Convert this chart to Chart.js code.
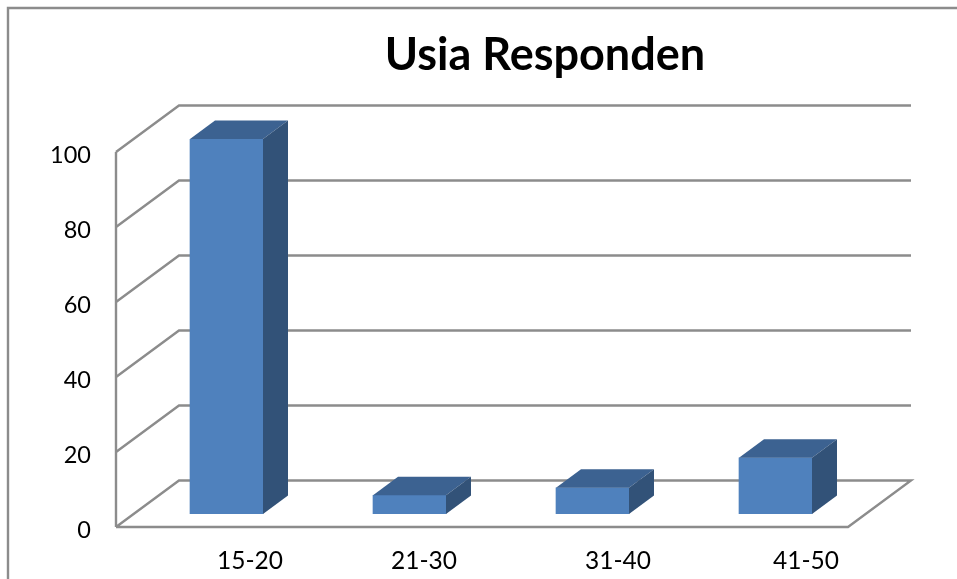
<!DOCTYPE html>
<html>
<head>
<meta charset="utf-8">
<style>html,body{margin:0;padding:0;background:#fff}canvas{display:block}</style>
<script src="https://cdn.jsdelivr.net/npm/chart.js@4"></script>
</head>
<body>
<canvas id="c" width="957" height="579"></canvas>
<script>
const categories = ['15-20', '21-30', '31-40', '41-50'];
const values = [100, 5, 7, 15];
const titleText = 'Usia Responden';
const labelNudges = [42.5, 33.5, 44.5, 49.5];

const LINE = '#8c8c8c', FRONT = '#4f81bd', TOP = '#3c6291', SIDE = '#325278';
const WALL_DX = 63, WALL_DY = -46.5;
const BAR_DX = 19, BAR_DY = -13;
const DEPTH_DX = 25, DEPTH_DY = -18.5;

const poly = (ctx, pts, fill) => {
  ctx.beginPath();
  pts.forEach((p, i) => i ? ctx.lineTo(p[0], p[1]) : ctx.moveTo(p[0], p[1]));
  if (fill) { ctx.closePath(); ctx.fillStyle = fill; ctx.fill(); } else ctx.stroke();
};

const scene3d = {
  id: 'scene3d',
  afterLayout(chart) {
    chart.titleBlock.left += 121;
    chart.titleBlock.right += 121;
  },
  beforeDatasetsDraw(chart) {
    const { ctx, scales: { y }, chartArea: a } = chart;
    ctx.save();
    ctx.strokeStyle = LINE;
    ctx.lineWidth = 2.4;
    ctx.lineJoin = 'miter';
    // outer frame
    poly(ctx, [[8, 579], [8, 8], [957, 8]]);
    // walls and gridlines
    y.ticks.forEach(t => {
      const py = y.getPixelForValue(t.value);
      if (t.value === 0) {
        poly(ctx, [[a.left, py], [a.right, py], [a.right + WALL_DX, py + WALL_DY], [a.left + WALL_DX, py + WALL_DY], [a.left, py]]);
      } else {
        poly(ctx, [[a.left, py], [a.left + WALL_DX, py + WALL_DY], [a.right + WALL_DX, py + WALL_DY]]);
      }
    });
    poly(ctx, [[a.left, a.top], [a.left, a.bottom]]);
    ctx.restore();
    // front faces are drawn by the library, shifted onto the floor
    ctx.save();
    ctx.translate(BAR_DX, BAR_DY);
  },
  afterDatasetsDraw(chart) {
    const { ctx } = chart;
    chart.getDatasetMeta(0).data.forEach(b => {
      const l = b.x - b.width / 2, r = b.x + b.width / 2;
      poly(ctx, [[l, b.y], [r, b.y], [r + DEPTH_DX, b.y + DEPTH_DY], [l + DEPTH_DX, b.y + DEPTH_DY]], TOP);
      poly(ctx, [[r, b.y], [r + DEPTH_DX, b.y + DEPTH_DY], [r + DEPTH_DX, b.base + DEPTH_DY], [r, b.base]], SIDE);
    });
    ctx.restore();
  }
};

new Chart(document.getElementById('c'), {
  type: 'bar',
  data: {
    labels: categories,
    datasets: [{
      data: values,
      backgroundColor: FRONT,
      borderWidth: 0,
      barThickness: 73
    }]
  },
  plugins: [scene3d],
  options: {
    responsive: false,
    animation: false,
    layout: { padding: { left: 0, right: 109, top: 0, bottom: 0 } },
    plugins: {
      legend: { display: false },
      tooltip: { enabled: false },
      title: {
        display: true,
        text: titleText,
        color: '#000',
        font: { family: 'Lato', size: 45, weight: 'bold', lineHeight: 1.2 },
        padding: { top: 28, bottom: 70 }
      }
    },
    scales: {
      x: {
        grid: { display: false, drawTicks: false },
        border: { display: false },
        ticks: { color: '#000', font: { family: 'Lato', size: 24.5 }, padding: 19, maxRotation: 0, autoSkip: false },
        afterFit(s) {
          s.height = 52;
          if (!s._nudged) {
            const base = s.getPixelForTick;
            s.getPixelForTick = function (i) { return base.call(this, i) + labelNudges[i]; };
            s._nudged = true;
          }
        }
      },
      y: {
        min: 0,
        max: 100,
        grid: { display: false, drawTicks: false },
        border: { display: false },
        ticks: { stepSize: 20, color: '#000', font: { family: 'Lato', size: 23.5 }, padding: 25, labelOffset: 3.5 },
        afterFit(s) { s.width = 116; }
      }
    }
  }
});
</script>
</body>
</html>
